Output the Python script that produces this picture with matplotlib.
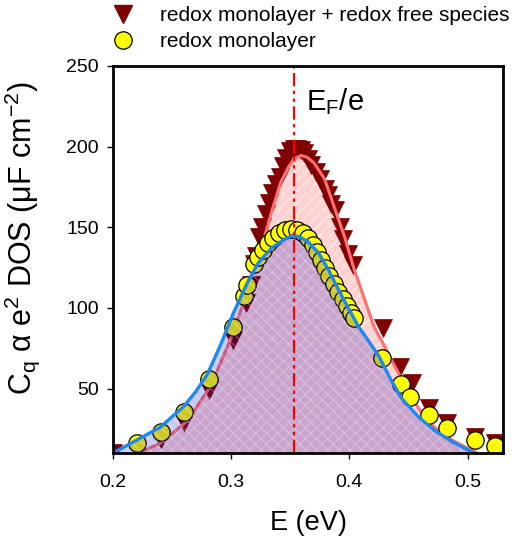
import matplotlib
matplotlib.use("Agg")
import matplotlib.pyplot as plt
from matplotlib.lines import Line2D

plt.rcParams['font.family'] = ['Liberation Sans', 'DejaVu Sans']
plt.rcParams['mathtext.default'] = 'regular'
plt.rcParams['hatch.linewidth'] = 1.0

# ---- data ----
E_tri = [0.200, 0.241, 0.2604, 0.2809, 0.3013, 0.3123, 0.3166, 0.3196, 0.3213, 0.3238,
         0.3264, 0.3298, 0.3323, 0.3349, 0.3383, 0.3409, 0.3440, 0.3468, 0.3500, 0.3530,
         0.3560, 0.3590, 0.3620, 0.3647, 0.3672, 0.3715, 0.3749, 0.3791, 0.3817, 0.3843,
         0.3877, 0.3919, 0.3945, 0.3987, 0.4030, 0.4287, 0.4426, 0.4528, 0.4672, 0.4826,
         0.5064, 0.5234]
C_tri = [10, 19, 29.3, 49.1, 80.2, 103, 114, 127, 132, 144,
         150, 158, 165, 171, 177, 181, 188, 193, 197, 198.5,
         198.5, 198, 196, 192.6, 188.9, 184.5, 180.2, 174, 170.2, 164.7,
         160.9, 150.4, 142.9, 133.6, 126.8, 87.6, 63.4, 53.5, 38, 28.6,
         19.9, 16.2]

E_circ = [0.2204, 0.2409, 0.2604, 0.2809, 0.3013, 0.3106, 0.3132, 0.3191, 0.3226, 0.3268,
          0.3311, 0.3353, 0.3404, 0.3455, 0.3506, 0.3557, 0.3609, 0.3651, 0.3694, 0.3728,
          0.3762, 0.3796, 0.3830, 0.3872, 0.3906, 0.3949, 0.3983, 0.4017, 0.4043, 0.4272,
          0.4434, 0.4511, 0.4672, 0.4826, 0.5064, 0.5234]
C_circ = [16.2, 23.0, 35.5, 56.0, 88.3, 107.5, 114.3, 127.4, 131.7, 136.1,
          140.4, 143.5, 146.6, 148.5, 149.1, 148.5, 146.6, 143.5, 139.2, 134.8,
          129.9, 124.9, 119.9, 115.0, 110.0, 105.7, 101.3, 97.0, 93.9, 69.0,
          52.9, 44.8, 33.6, 25.5, 18.1, 14.3]

E_pink_fit = [0.221, 0.240, 0.263, 0.283, 0.302, 0.312, 0.321, 0.327, 0.334, 0.342,
              0.349, 0.355, 0.359, 0.364, 0.370, 0.379, 0.387, 0.396, 0.404, 0.413,
              0.421, 0.430, 0.436, 0.442, 0.453, 0.461, 0.472, 0.487, 0.500, 0.508]
C_pink_fit = [10, 16, 30, 52, 85, 107, 127, 141, 159, 178,
              188, 193, 194.5, 193.5, 190, 180, 163, 144, 124, 105,
              88, 76, 67, 59, 44, 35, 26, 18, 13, 10]

E_blue_fit = [0.200, 0.220, 0.240, 0.260, 0.270, 0.280, 0.291, 0.302, 0.314, 0.323,
              0.334, 0.345, 0.352, 0.358, 0.365, 0.374, 0.382, 0.391, 0.399, 0.408,
              0.413, 0.425, 0.434, 0.444, 0.459, 0.472, 0.487, 0.5055]
C_blue_fit = [10, 18, 26, 39, 48, 59, 77, 97, 116, 128,
              137, 142.5, 145, 144, 141, 134, 124, 111, 100, 88,
              83, 70, 57, 44, 32, 24, 17, 10]

E_F = 0.353

x_ticks = [0.2, 0.3, 0.4, 0.5]
y_ticks = [50, 100, 150, 200, 250]

# ---- figure ----
fig = plt.figure(figsize=(5.14, 5.43), dpi=100)
ax = fig.add_axes([0.2198, 0.1657, 0.7588, 0.7128])

ymin = 10
ax.fill_between(E_pink_fit, C_pink_fit, ymin, facecolor=(1, 0, 0, 0.18),
                edgecolor=(1, 1, 1, 0.5), hatch='///', linewidth=0, zorder=1)
ax.plot(E_tri, C_tri, linestyle='none', marker='v', markersize=12.5,
        markerfacecolor='#800000', markeredgecolor='#800000', markeredgewidth=0.5, zorder=2)
ax.plot(E_pink_fit, C_pink_fit, color='#ff7070', linewidth=2.2, zorder=3)
ax.plot(E_circ, C_circ, linestyle='none', marker='o', markersize=12.5,
        markerfacecolor='#ffff00', markeredgecolor='black', markeredgewidth=0.9, zorder=4)
ax.fill_between(E_blue_fit, C_blue_fit, ymin, facecolor=(0.04, 0.0, 0.73, 0.21),
                edgecolor=(1, 1, 1, 0.25), hatch='\\\\\\', linewidth=0, zorder=5)
ax.plot(E_blue_fit, C_blue_fit, color='#1e88f0', linewidth=2.4, zorder=6)

ax.axvline(E_F, color='red', linewidth=1.6, dashes=(6, 2, 1.5, 2, 1.5, 2), zorder=7)
ax.text(0.3634, 228, r'E$_\mathregular{F}$/e', fontsize=21, va='center', ha='left')

ax.set_xlim(0.2, 0.53)
ax.set_ylim(ymin, 250)
ax.set_xticks(x_ticks)
ax.set_xticklabels(['0.2', '0.3', '0.4', '0.5'])
ax.set_yticks(y_ticks)
ax.tick_params(axis='both', direction='out', length=4, width=1, labelsize=14,
               top=False, right=False)
ax.tick_params(axis='x', pad=11)
ax.tick_params(axis='y', pad=6)
for s in ax.spines.values():
    s.set_linewidth(2)
    s.set_zorder(10)

ax.set_xlabel('E (eV)', fontsize=19.5, labelpad=14)
ax.set_ylabel(r'C$_\mathregular{q}$ α e$^\mathregular{2}$ DOS (μF cm$^\mathregular{-2}$)',
              fontsize=22)
ax.yaxis.set_label_coords(-0.183, 0.556)

handles = [Line2D([], [], linestyle='none', marker='v', markersize=12.5,
                  markerfacecolor='#800000', markeredgecolor='#800000'),
           Line2D([], [], linestyle='none', marker='o', markersize=12.5,
                  markerfacecolor='#ffff00', markeredgecolor='black', markeredgewidth=0.9)]
fig.legend(handles, ['redox monolayer + redox free species', 'redox monolayer'],
           loc='upper left', bbox_to_anchor=(0.183, 1.004), frameon=False,
           fontsize=15, handletextpad=0.78, labelspacing=0.35, borderaxespad=0)

fig.savefig('out.png', dpi=100)
